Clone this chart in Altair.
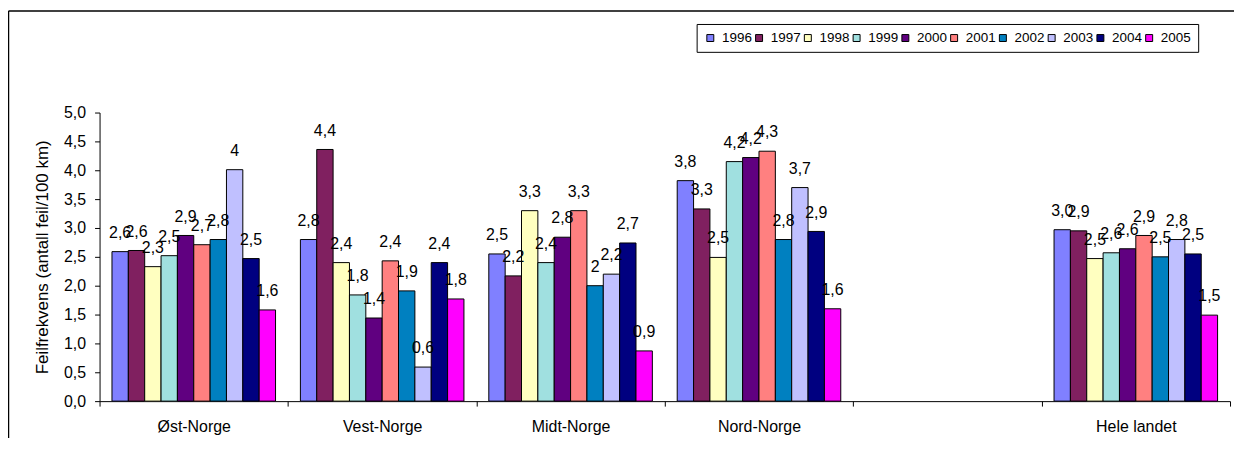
import altair as alt
import pandas as pd

regions = ["Øst-Norge", "Vest-Norge", "Midt-Norge", "Nord-Norge", " ", "Hele landet"]
years = ["1996", "1997", "1998", "1999", "2000", "2001", "2002", "2003", "2004", "2005"]
colors = ["#8080FF", "#802060", "#FFFFC0", "#A0E0E0", "#600080",
          "#FF8080", "#0080C0", "#C0C0FF", "#000080", "#FF00FF"]

ost_values = [2.59, 2.61, 2.33, 2.52, 2.87, 2.71, 2.80, 4.01, 2.47, 1.58]
vest_values = [2.80, 4.36, 2.40, 1.84, 1.44, 2.43, 1.91, 0.59, 2.40, 1.77]
midt_values = [2.55, 2.17, 3.30, 2.40, 2.84, 3.30, 2.00, 2.20, 2.74, 0.87]
nord_values = [3.82, 3.33, 2.49, 4.15, 4.22, 4.33, 2.80, 3.70, 2.94, 1.60]
hele_values = [2.97, 2.95, 2.47, 2.57, 2.64, 2.87, 2.50, 2.80, 2.55, 1.49]

ost_labels = ["2,6", "2,6", "2,3", "2,5", "2,9", "2,7", "2,8", "4", "2,5", "1,6"]
vest_labels = ["2,8", "4,4", "2,4", "1,8", "1,4", "2,4", "1,9", "0,6", "2,4", "1,8"]
midt_labels = ["2,5", "2,2", "3,3", "2,4", "2,8", "3,3", "2", "2,2", "2,7", "0,9"]
nord_labels = ["3,8", "3,3", "2,5", "4,2", "4,2", "4,3", "2,8", "3,7", "2,9", "1,6"]
hele_labels = ["3,0", "2,9", "2,5", "2,6", "2,6", "2,9", "2,5", "2,8", "2,5", "1,5"]

y_ticks = [0, 0.5, 1, 1.5, 2, 2.5, 3, 3.5, 4, 4.5, 5]

series = [
    ("Øst-Norge", ost_values, ost_labels),
    ("Vest-Norge", vest_values, vest_labels),
    ("Midt-Norge", midt_values, midt_labels),
    ("Nord-Norge", nord_values, nord_labels),
    ("Hele landet", hele_values, hele_labels),
]
rows = []
for region, vals, labs in series:
    for yr, v, lab in zip(years, vals, labs):
        rows.append({"region": region, "year": yr, "value": v, "label": lab})
df = pd.DataFrame(rows)

FONT = "Liberation Sans, Arial"

x_enc = alt.X("region:N", sort=regions,
              scale=alt.Scale(domain=regions, paddingInner=0, paddingOuter=0),
              axis=alt.Axis(title=None, labelAngle=0, tickBand="extent", tickSize=5,
                            labelPadding=13, labelFontSize=16, labelFont=FONT,
                            labelColor="black", domainColor="black", tickColor="black",
                            grid=False))
xoff_enc = alt.XOffset("year:N", sort=years,
                       scale=alt.Scale(domain=years, paddingInner=0, paddingOuter=0.76))
y_enc = alt.Y("value:Q",
              scale=alt.Scale(domain=[0, 5], nice=False),
              axis=alt.Axis(title="Feilfrekvens (antall feil/100 km)", values=y_ticks,
                            labelExpr="replace(format(datum.value, '.1f'), '.', ',')",
                            tickSize=5, labelPadding=9, labelFontSize=16, labelFont=FONT,
                            labelColor="black", domainColor="black", tickColor="black",
                            grid=False, titleFontSize=17, titleFont=FONT,
                            titleFontWeight="normal", titleColor="black",
                            titleX=-57, titleY=145, titleAlign="center",
                            titleBaseline="middle", titleAngle=270))

base = alt.Chart(df).encode(x=x_enc, xOffset=xoff_enc, y=y_enc)

bars = base.mark_bar(stroke="black", strokeWidth=1).encode(
    color=alt.Color("year:N", sort=years,
                    scale=alt.Scale(domain=years, range=colors),
                    legend=alt.Legend(title=None, orient="none", legendX=600, legendY=-89,
                                      direction="horizontal", columns=10,
                                      symbolType="square", symbolSize=49,
                                      symbolStrokeColor="black", symbolStrokeWidth=1,
                                      symbolOpacity=1, labelFontSize=13.5, labelFont=FONT,
                                      labelColor="black", labelOffset=5,
                                      columnPadding=0, padding=7,
                                      strokeColor="black", fillColor="white"))
)

texts = base.mark_text(baseline="alphabetic", align="center", dy=-14,
                       fontSize=16, font=FONT, color="black").encode(text="label:N")

frame_df = pd.DataFrame({"k": [0]})
top_line = alt.Chart(frame_df).mark_rule(color="black", strokeWidth=1.5).encode(
    x=alt.value(-91.5), x2=alt.value(1140), y=alt.value(-102))
left_line = alt.Chart(frame_df).mark_rule(color="black", strokeWidth=1.5).encode(
    x=alt.value(-91.5), y=alt.value(-102), y2=alt.value(330))

chart = alt.layer(bars, texts, top_line, left_line).properties(
    width=1136, height=290,
    autosize=alt.AutoSizeParams(type="none"),
    padding={"left": 92, "top": 104, "right": 4, "bottom": 36},
    background="white",
).configure_view(stroke="transparent")

chart.save("out.html", embed_options={"renderer": "svg", "actions": False})
